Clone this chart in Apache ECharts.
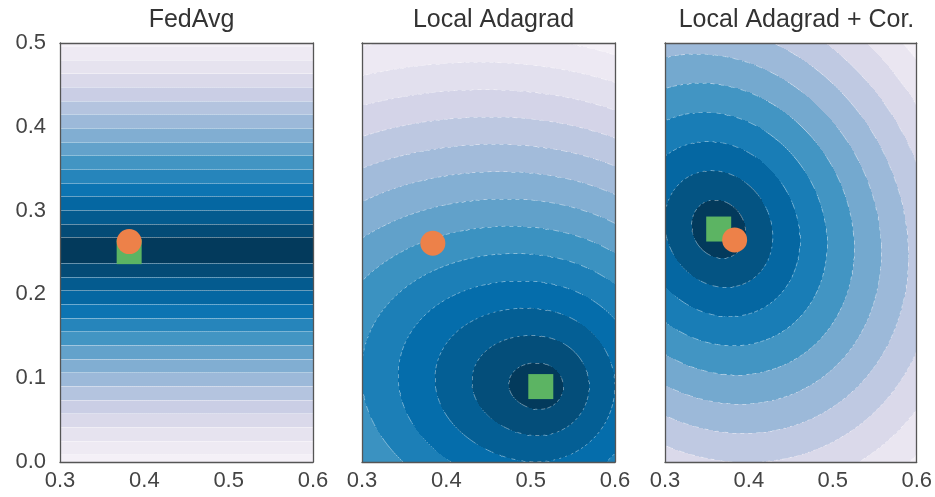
<!DOCTYPE html>
<html><head><meta charset="utf-8">
<script src="https://cdn.jsdelivr.net/npm/echarts@6/dist/echarts.min.js"></script>
<style>html,body{margin:0;padding:0;background:#fff}#c{width:935px;height:497px}</style>
</head><body><div id="c"></div>
<script>
// ---- chart data ----
const panelTitles = ['FedAvg', 'Local Adagrad', 'Local Adagrad + Cor.'];
const xTicks = [0.3, 0.4, 0.5, 0.6];
const yTicks = [0.0, 0.1, 0.2, 0.3, 0.4, 0.5];
// green squares (minimiser of each objective)
const squareX = [0.382, 0.512, 0.364];
const squareY = [0.251, 0.090, 0.278];
// orange circles (true optimum)
const circleX = [0.382, 0.384, 0.383];
const circleY = [0.263, 0.261, 0.265];
// centre of the contour rings of each panel
const fieldMinX = [0.382, 0.512, 0.364];
const fieldMinY = [0.2525, 0.090, 0.278];
// FedAvg: horizontal bands, spacing in y per contour level
const fedAvgSpacing = [0.0163];
// Local Adagrad: teardrop rings, spacing per level depends on direction
// (base spacing, extra spacing, direction of the longest reach in degrees, sharpness)
const adagradSpacing = [0.0305, 0.0135, 170, 2.5];
// Local Adagrad + Cor.: tilted elliptic rings (xx, yy, xy coefficients)
const corrQuad = [977, 840, 120];
// first contour level and level step (in ring units)
const firstLevel = [0.95, 0.87, 1.0];
const levelStep = [1.0, 1.0, 1.0];
const lineOpacity = [0.45, 0.45, 0.45];
const dashedLines = [false, true, true];
// colour map (PuBu, reversed)
const bandColors = ['#033a5c', '#045a8d', '#0570b0', '#3690c0', '#74a9cf', '#a6bddb', '#d0d1e6', '#e8e4f0', '#f4f0f7'];

const X0 = 0.3, X1 = 0.6, Y0 = 0.0, Y1 = 0.5;

function fieldValue(p, x, y) {
  const dx = x - fieldMinX[p], dy = y - fieldMinY[p];
  if (p === 0) return Math.abs(dy) / fedAvgSpacing[0];
  if (p === 1) {
    const r = Math.sqrt(dx * dx + dy * dy);
    const th = Math.atan2(dy, dx) - adagradSpacing[2] * Math.PI / 180;
    const rho = adagradSpacing[0] + adagradSpacing[1] * Math.exp(adagradSpacing[3] * (Math.cos(th) - 1));
    return r / rho;
  }
  const q = corrQuad[0] * dx * dx + corrQuad[1] * dy * dy + 2 * corrQuad[2] * dx * dy;
  return Math.sqrt(Math.max(q, 0));
}
function bandOf(p, f) {
  return f < firstLevel[p] ? 0 : Math.floor((f - firstLevel[p]) / levelStep[p]) + 1;
}

const gridLefts = [60, 362, 665];
const gridW = 253, gridTop = 43, gridH = 419;
const SX = 253, SY = 419;   // sampling resolution of the filled contours
const NX = 127, NY = 210;   // resolution used to trace contour lines

const FONT = 'Liberation Sans, Arial, sans-serif';
const grids = [], xAxes = [], yAxes = [], series = [], titles = [];

for (let p = 0; p < 3; p++) {
  grids.push({left: gridLefts[p], top: gridTop, width: gridW, height: gridH});
  titles.push({text: panelTitles[p], left: gridLefts[p] + gridW / 2, top: 3, textAlign: 'center',
    textStyle: {fontFamily: FONT, fontSize: 25, fontWeight: 'normal', color: '#333'}});
  const axStyle = {lineStyle: {color: '#555', width: 1.3}, onZero: false};
  xAxes.push({gridIndex: p, type: 'value', min: X0, max: X1, interval: 0.1, position: 'bottom', z: 10,
    axisLine: Object.assign({show: true}, axStyle), axisTick: {show: false}, splitLine: {show: false},
    axisLabel: {show: true, fontSize: 22, color: '#444', margin: 8, fontFamily: FONT,
      formatter: v => (xTicks.some(t => Math.abs(t - v) < 1e-6) ? v.toFixed(1) : '')}});
  xAxes.push({gridIndex: p, type: 'value', min: X0, max: X1, position: 'top', z: 10,
    axisLine: Object.assign({show: true}, axStyle), axisTick: {show: false}, splitLine: {show: false}, axisLabel: {show: false}});
  yAxes.push({gridIndex: p, type: 'value', min: Y0, max: Y1, interval: 0.1, position: 'left', z: 10,
    axisLine: Object.assign({show: true}, axStyle), axisTick: {show: false}, splitLine: {show: false},
    axisLabel: {show: p === 0, fontSize: 22, color: '#444', margin: 14, fontFamily: FONT,
      formatter: v => (yTicks.some(t => Math.abs(t - v) < 1e-6) ? v.toFixed(1) : '')}});
  yAxes.push({gridIndex: p, type: 'value', min: Y0, max: Y1, position: 'right', z: 10,
    axisLine: Object.assign({show: true}, axStyle), axisTick: {show: false}, splitLine: {show: false}, axisLabel: {show: false}});
}

const fillSeriesIdx = [];
for (let p = 0; p < 3; p++) {
  // filled contours: runs of equal band along each sample row
  const rows = [];
  let maxBand = 0;
  for (let r = 0; r < SY; r++) {
    const y = Y1 - (r + 0.5) / SY * (Y1 - Y0);
    const row = [];
    for (let c = 0; c < SX; c++) {
      const b = bandOf(p, fieldValue(p, X0 + (c + 0.5) / SX * (X1 - X0), y));
      if (b > maxBand) maxBand = b;
      row.push(b);
    }
    rows.push(row);
  }
  const runs = [];
  for (let r = 0; r < SY; r++) {
    const row = rows[r];
    const yTop = Y1 - r / SY * (Y1 - Y0), yBot = Y1 - (r + 1) / SY * (Y1 - Y0);
    let c0 = 0;
    for (let c = 1; c <= SX; c++) {
      if (c === SX || row[c] !== row[c0]) {
        runs.push([X0 + c0 / SX * (X1 - X0), X0 + c / SX * (X1 - X0), yBot, yTop, row[c0] / maxBand]);
        c0 = c;
      }
    }
  }
  fillSeriesIdx.push(series.length);
  series.push({type: 'custom', xAxisIndex: 2 * p, yAxisIndex: 2 * p, data: runs, silent: true,
    animation: false, z: 1, encode: {x: [0, 1], y: [2, 3]}, clip: true,
    renderItem: function (params, api) {
      const a = api.coord([api.value(0), api.value(3)]);
      const b = api.coord([api.value(1), api.value(2)]);
      const x0 = Math.round(a[0]), x1 = Math.round(b[0]);
      const y0 = Math.round(a[1]), y1 = Math.round(b[1]);
      return {type: 'rect', shape: {x: x0, y: y0, width: x1 - x0, height: y1 - y0},
        style: {fill: api.visual('color')}};
    }});

  // contour lines via marching squares on a node grid
  const vals = [];
  for (let j = 0; j <= NY; j++) {
    const row = [];
    const y = Y0 + j / NY * (Y1 - Y0);
    for (let i = 0; i <= NX; i++) row.push(fieldValue(p, X0 + i / NX * (X1 - X0), y));
    vals.push(row);
  }
  const segs = [];
  for (let k = 0; k < maxBand; k++) {
    const L = firstLevel[p] + k * levelStep[p];
    for (let j = 0; j < NY; j++) {
      for (let i = 0; i < NX; i++) {
        if (dashedLines[p] && (Math.floor((i + j) / 2) % 2 === 1)) continue;
        const xa = X0 + i / NX * (X1 - X0), xb = X0 + (i + 1) / NX * (X1 - X0);
        const ya = Y0 + j / NY * (Y1 - Y0), yb = Y0 + (j + 1) / NY * (Y1 - Y0);
        const v00 = vals[j][i], v10 = vals[j][i + 1], v01 = vals[j + 1][i], v11 = vals[j + 1][i + 1];
        const pts = [];
        if ((v00 - L) * (v10 - L) < 0) pts.push([xa + (L - v00) / (v10 - v00) * (xb - xa), ya]);
        if ((v10 - L) * (v11 - L) < 0) pts.push([xb, ya + (L - v10) / (v11 - v10) * (yb - ya)]);
        if ((v01 - L) * (v11 - L) < 0) pts.push([xa + (L - v01) / (v11 - v01) * (xb - xa), yb]);
        if ((v00 - L) * (v01 - L) < 0) pts.push([xa, ya + (L - v00) / (v01 - v00) * (yb - ya)]);
        if (pts.length >= 2) segs.push({coords: [pts[0], pts[1]]});
        if (pts.length === 4) segs.push({coords: [pts[2], pts[3]]});
      }
    }
  }
  series.push({type: 'lines', coordinateSystem: 'cartesian2d', xAxisIndex: 2 * p, yAxisIndex: 2 * p,
    data: segs, silent: true, animation: false, z: 2,
    lineStyle: {color: '#ffffff', width: 0.9, opacity: lineOpacity[p]}});
}

for (let p = 0; p < 3; p++) {
  series.push({type: 'scatter', xAxisIndex: 2 * p, yAxisIndex: 2 * p, symbol: 'rect', symbolSize: 25,
    data: [[squareX[p], squareY[p]]], itemStyle: {color: '#5cb463', opacity: 1}, z: 5, animation: false, silent: true});
  series.push({type: 'scatter', xAxisIndex: 2 * p, yAxisIndex: 2 * p, symbol: 'circle', symbolSize: 25,
    data: [[circleX[p], circleY[p]]], itemStyle: {color: '#ed8149', opacity: 1}, z: 6, animation: false, silent: true});
}

const chart = echarts.init(document.getElementById('c'), null, {renderer: 'canvas'});
chart.setOption({
  animation: false,
  backgroundColor: '#ffffff',
  title: titles,
  grid: grids,
  xAxis: xAxes,
  yAxis: yAxes,
  visualMap: {type: 'continuous', min: 0, max: 1, show: false, seriesIndex: fillSeriesIdx, dimension: 4,
    inRange: {color: bandColors}},
  series: series
});
</script>
</body></html>
